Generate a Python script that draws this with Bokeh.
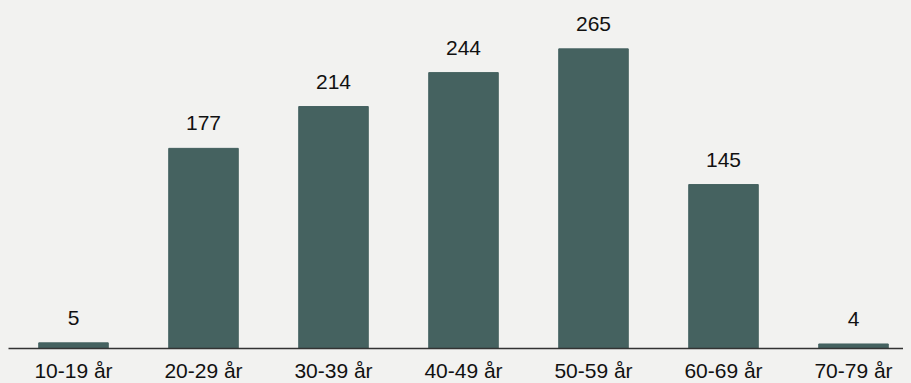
from bokeh.plotting import figure
from bokeh.models import (ColumnDataSource, Range1d, FixedTicker, LabelSet,
                          GlobalInlineStyleSheet)
from bokeh.core.properties import value
from bokeh.embed import file_html
from bokeh.resources import INLINE

categories = ["10-19 år", "20-29 år", "30-39 år", "40-49 år", "50-59 år", "60-69 år", "70-79 år"]
values = [5, 177, 214, 244, 265, 145, 4]

BG = "#f2f2f0"
BAR = "#456260"
FONT = "Liberation Sans"

pos = [i + 1 for i in range(len(categories))]
src = ColumnDataSource(dict(x=pos, top=values, label=[str(v) for v in values]))

FW = 903
p = figure(frame_width=FW, frame_height=340, output_backend="svg", toolbar_location=None,
           x_range=Range1d(0.5, 0.5 + FW / 130.0), y_range=Range1d(0, 300.7),
           background_fill_color=BG, border_fill_color=BG,
           min_border_left=0, min_border_right=0, min_border_top=0, min_border_bottom=0)
p.outline_line_color = None
p.xgrid.visible = False
p.ygrid.visible = False
p.yaxis.visible = False

p.vbar(x="x", top="top", width=0.535, bottom=0, source=src, color=BAR)

labels = LabelSet(x="x", y="top", text="label", source=src, y_offset=18,
                  text_align="center", text_baseline="alphabetic",
                  text_font=value(FONT), text_font_size="21px", text_color="#111111")
p.add_layout(labels)

ax = p.xaxis[0]
ax.ticker = FixedTicker(ticks=pos)
ax.major_label_overrides = {k: c for k, c in zip(pos, categories)}
ax.major_tick_line_color = None
ax.minor_tick_line_color = None
ax.major_tick_out = 0
ax.major_tick_in = 0
ax.axis_line_color = "#333333"
ax.axis_line_width = 1.5
ax.major_label_standoff = 10
ax.major_label_text_font = FONT
ax.major_label_text_font_size = "21px"
ax.major_label_text_color = "#111111"

p.stylesheets = [GlobalInlineStyleSheet(css=f"html, body {{ background: {BG}; margin: 0; }} body {{ margin: 8px; }}")]

open("out.html", "w").write(file_html(p, INLINE))
